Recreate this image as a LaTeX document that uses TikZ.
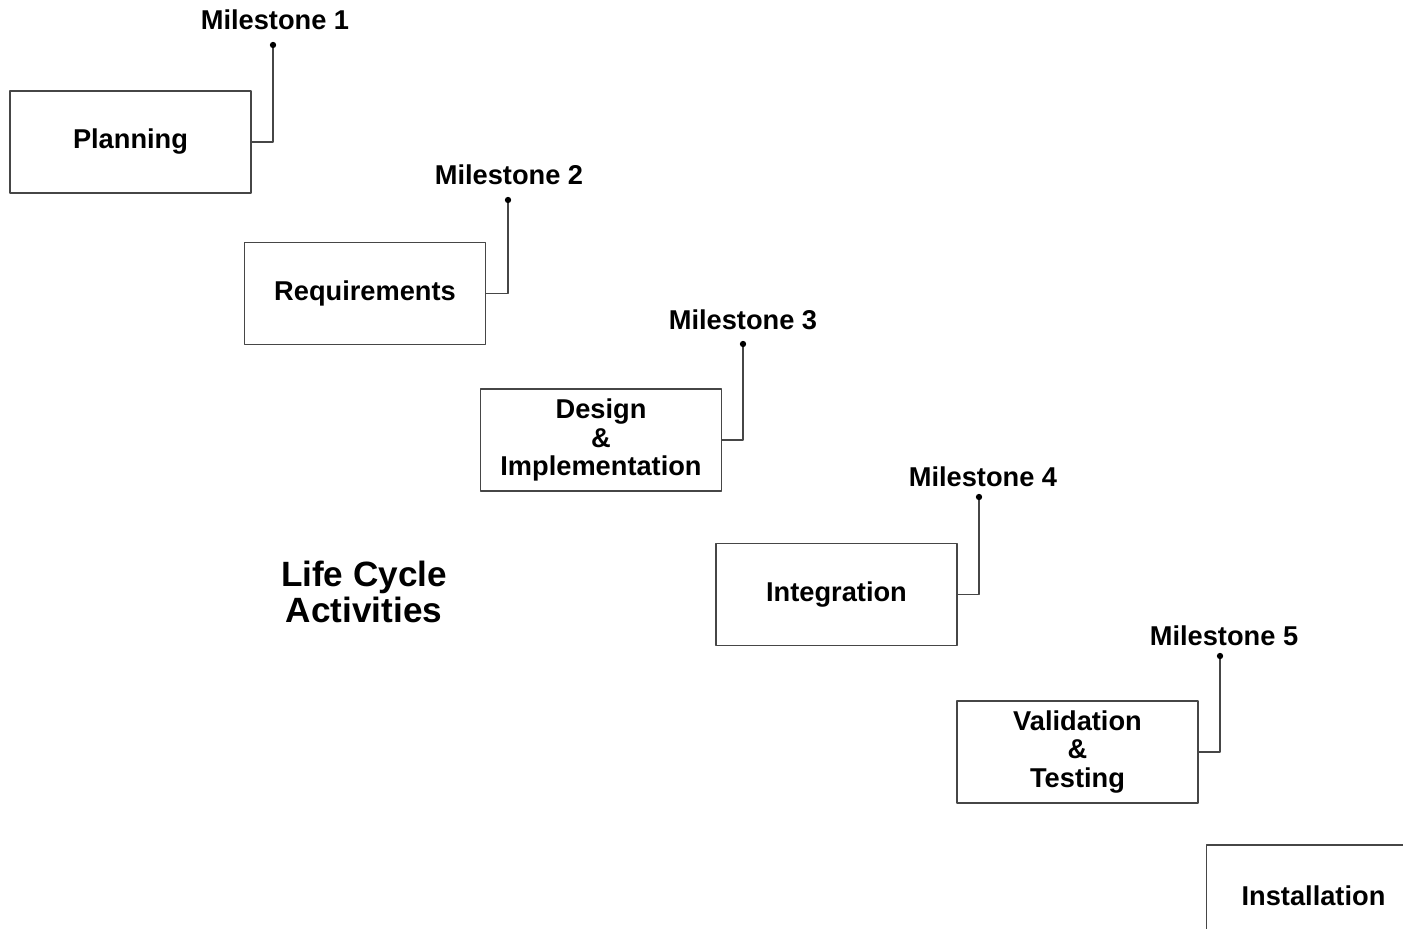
\documentclass[tikz,border=0pt]{standalone}
\usepackage{fontspec}
\setmainfont{Liberation Sans}
\usetikzlibrary{positioning}
\definecolor{lcLine}{RGB}{70,70,70}

\begin{document}
\begin{tikzpicture}[x=0.02cm, y=-0.02cm, line cap=round, line join=round,
    phase/.style={draw=lcLine, line width=1pt, minimum width=4.82cm, minimum height=2.04cm,
      align=center, font=\fontsize{15.5}{16}\selectfont\bfseries},
    mslabel/.style={font=\fontsize{15.5}{16}\selectfont\bfseries},
    msline/.style={draw=lcLine, line width=1pt}]
    \useasboundingbox (0,0) rectangle (1403,929);
    % life cycle phases
    \node[phase] (plan) at (130.5,142) {Planning};
    \node[phase] (req) at (365,293.5) {Requirements};
    \node[phase] (design) at (601,440) {Design\\\&\\Implementation};
    \node[phase] (integ) at (836.5,594.5) {Integration};
    \node[phase] (valid) at (1077.5,752) {Validation\\\&\\Testing};
    \node[phase] (install) at (1327,896) {Installation\hspace*{0.54cm}};
    % milestones
    \coordinate (ms1) at (273,45);
    \coordinate (ms2) at (508,200);
    \coordinate (ms3) at (743,344);
    \coordinate (ms4) at (979,497);
    \coordinate (ms5) at (1220,656);
    \node[mslabel] (lab1) at (275,20) {Milestone 1};
    \node[mslabel] (lab2) at (509,175) {Milestone 2};
    \node[mslabel] (lab3) at (743,320) {Milestone 3};
    \node[mslabel] (lab4) at (983,477) {Milestone 4};
    \node[mslabel] (lab5) at (1224,636) {Milestone 5};
    \draw[msline] (plan.east) -| (ms1);
    \draw[msline] (req.east) -| (ms2);
    \draw[msline] (design.east) -| (ms3);
    \draw[msline] (integ.east) -| (ms4);
    \draw[msline] (valid.east) -| (ms5);
    \fill[black] (ms1) circle (1.8pt);
    \fill[black] (ms2) circle (1.8pt);
    \fill[black] (ms3) circle (1.8pt);
    \fill[black] (ms4) circle (1.8pt);
    \fill[black] (ms5) circle (1.8pt);
    \node[align=center, font=\fontsize{20}{20.5}\selectfont\bfseries] (title) at (364,592) {Life Cycle\\Activities};
\end{tikzpicture}
\end{document}
